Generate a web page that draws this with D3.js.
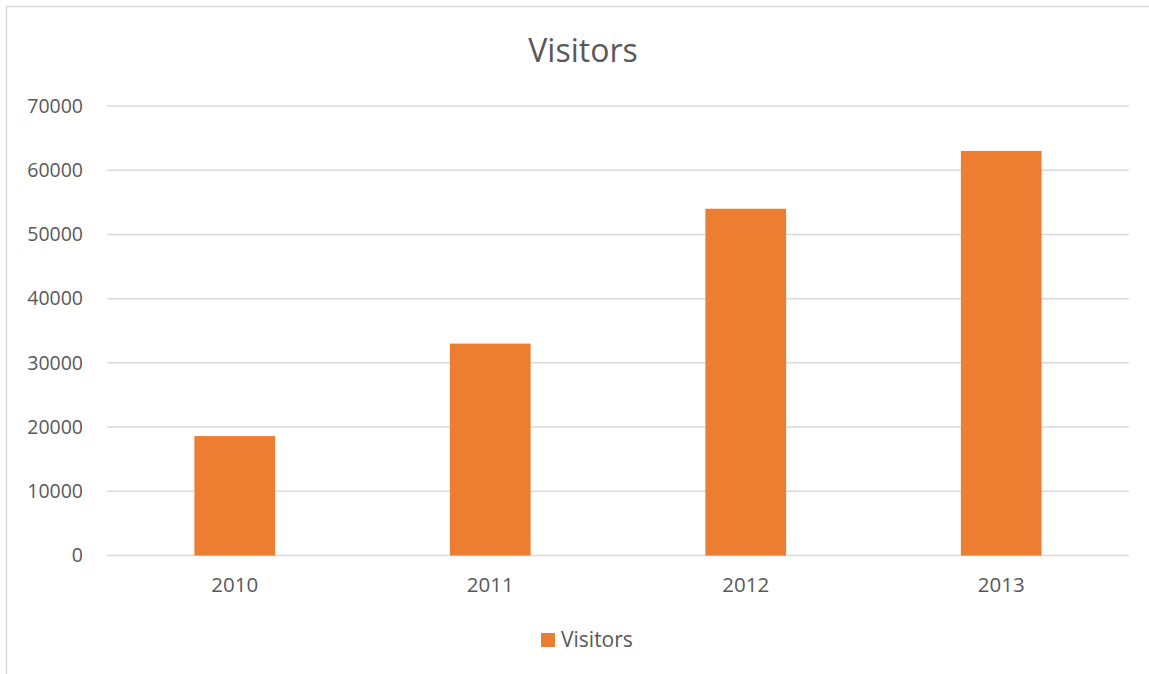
<!DOCTYPE html>
<html><head><meta charset="utf-8">
<script src="https://cdn.jsdelivr.net/npm/d3@7"></script>
<style>body{margin:0;background:#fff}svg{display:block}</style>
</head><body>
<script>
const categories = ["2010","2011","2012","2013"];
const visitors = [18600, 33000, 54000, 63000];
const yTicks = [0,10000,20000,30000,40000,50000,60000,70000];
const seriesName = "Visitors";
const title = "Visitors";

const W = 1149, H = 674;
const font = "'Open Sans', 'Liberation Sans', sans-serif";
const svg = d3.select("body").append("svg").attr("width", W).attr("height", H);
svg.append("rect").attr("x",6.5).attr("y",6.5).attr("width",W+10).attr("height",H+10)
  .attr("fill","#fff").attr("stroke","#d9d9d9").attr("stroke-width",1.5);

const m = {left:107, right:1129, top:106, bottom:555.5};
const x = d3.scaleBand().domain(categories).range([m.left,m.right]).paddingInner(0.684).paddingOuter(0.342);
const y = d3.scaleLinear().domain([0,70000]).range([m.bottom,m.top]);

const g = svg.append("g");
g.selectAll("line.grid").data(yTicks).join("line").attr("class","grid")
  .attr("x1",m.left).attr("x2",m.right).attr("y1",d=>y(d)).attr("y2",d=>y(d))
  .attr("stroke","#d9d9d9").attr("stroke-width",1.5);

g.selectAll("rect.bar").data(visitors).join("rect").attr("class","bar")
  .attr("x",(d,i)=>x(categories[i])).attr("width",x.bandwidth())
  .attr("y",d=>y(d)).attr("height",d=>y(0)-y(d)).attr("fill","#ed7d31");

const yAxis = d3.axisLeft(y).tickValues(yTicks).tickFormat(d3.format("d")).tickSize(0).tickPadding(24);
const ya = svg.append("g").attr("transform",`translate(${m.left},0)`).call(yAxis);
ya.select(".domain").remove();
ya.selectAll("text").attr("fill","#595959").style("font-family",font).style("font-size","19.5px");

const xAxis = d3.axisBottom(x).tickSize(0).tickPadding(22);
const xa = svg.append("g").attr("transform",`translate(0,${m.bottom})`).call(xAxis);
xa.select(".domain").remove();
xa.selectAll("text").attr("fill","#595959").style("font-family",font).style("font-size","20.5px");

svg.append("text").attr("x",583).attr("y",62).attr("text-anchor","middle")
  .attr("fill","#595959").style("font-family",font).style("font-size","32px").text(title);

const lg = svg.append("g");
lg.append("rect").attr("x",541).attr("y",633).attr("width",14).attr("height",14).attr("fill","#ed7d31");
lg.append("text").attr("x",561).attr("y",647).attr("fill","#595959")
  .style("font-family",font).style("font-size","21px").text(seriesName);
</script>
</body></html>
